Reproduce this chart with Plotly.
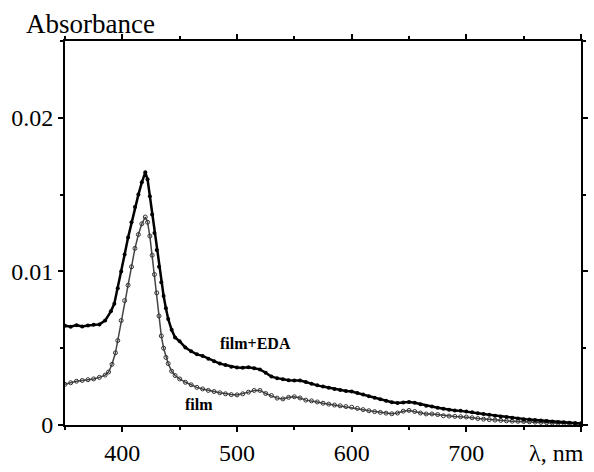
import plotly.graph_objects as go

# wavelength grid (nm)
wl_eda = [350, 355, 360, 365, 370, 375, 380, 385, 390, 393, 396, 399, 402, 405, 408, 411, 414, 417, 420,
          422, 424, 426, 428, 430, 432, 434, 436, 438, 440, 443, 446, 450, 455, 460, 465, 470, 475, 480,
          485, 490, 495, 500, 505, 510, 515, 520, 525, 530, 535, 540, 545, 550, 555, 560, 565, 570, 575,
          580, 585, 590, 595, 600, 605, 610, 615, 620, 625, 630, 635, 640, 645, 650, 655, 660, 665, 670,
          675, 680, 685, 690, 695, 700, 705, 710, 715, 720, 725, 730, 735, 740, 745, 750, 755, 760, 765,
          770, 775, 780, 785, 790, 795, 800]
abs_eda = [0.00646, 0.00640, 0.00650, 0.00642, 0.00648, 0.00652, 0.00655, 0.00680, 0.00740, 0.00790,
           0.00890, 0.01000, 0.01110, 0.01220, 0.01320, 0.01420, 0.01500, 0.01580, 0.01645,
           0.01600, 0.01490, 0.01370, 0.01250, 0.01140, 0.01030, 0.00930, 0.00840, 0.00760, 0.00690,
           0.00620, 0.00570, 0.00545, 0.00505, 0.00480, 0.00460, 0.00450, 0.00432, 0.00415,
           0.00400, 0.00390, 0.00380, 0.00375, 0.00373, 0.00376, 0.00370, 0.00362, 0.00340, 0.00315,
           0.00305, 0.00298, 0.00292, 0.00290, 0.00289, 0.00280, 0.00268, 0.00258, 0.00250,
           0.00242, 0.00235, 0.00228, 0.00222, 0.00218, 0.00208, 0.00198, 0.00187, 0.00178, 0.00168,
           0.00158, 0.00148, 0.00143, 0.00146, 0.00149, 0.00145, 0.00135, 0.00126, 0.00120,
           0.00112, 0.00105, 0.00099, 0.00095, 0.00092, 0.00088, 0.00083, 0.00077, 0.00072, 0.00066,
           0.00061, 0.00056, 0.00052, 0.00047, 0.00042, 0.00038, 0.00035, 0.00033, 0.00030,
           0.00026, 0.00023, 0.00020, 0.00018, 0.00015, 0.00012, 0.00010]

wl_film = [350, 355, 360, 365, 370, 375, 380, 385, 388, 391, 394, 396, 399, 402, 405, 408, 411, 414, 417,
           420, 422, 424, 426, 428, 430, 432, 434, 436, 438, 440, 443, 446, 450, 455, 460, 465, 470, 475,
           480, 485, 490, 495, 500, 505, 510, 515, 520, 525, 530, 535, 540, 545, 550, 555, 560, 565, 570,
           575, 580, 585, 590, 595, 600, 605, 610, 615, 620, 625, 630, 635, 640, 645, 650, 655, 660, 665,
           670, 675, 680, 685, 690, 695, 700, 705, 710, 715, 720, 725, 730, 735, 740, 745, 750, 755, 760,
           765, 770, 775, 780, 785, 790, 795, 800]
abs_film = [0.00265, 0.00275, 0.00285, 0.00290, 0.00295, 0.00300, 0.00310, 0.00325, 0.00345, 0.00395,
            0.00470, 0.00550, 0.00680, 0.00810, 0.00910, 0.01030, 0.01150, 0.01240, 0.01310,
            0.01354, 0.01320, 0.01230, 0.01105, 0.00980, 0.00860, 0.00710, 0.00580, 0.00500, 0.00440,
            0.00400, 0.00350, 0.00322, 0.00300, 0.00278, 0.00262, 0.00245, 0.00235, 0.00225,
            0.00218, 0.00210, 0.00203, 0.00198, 0.00196, 0.00203, 0.00214, 0.00225, 0.00225, 0.00205,
            0.00192, 0.00175, 0.00170, 0.00180, 0.00184, 0.00176, 0.00162, 0.00157, 0.00150,
            0.00142, 0.00136, 0.00130, 0.00125, 0.00120, 0.00116, 0.00108, 0.00100, 0.00093, 0.00087,
            0.00082, 0.00077, 0.00073, 0.00078, 0.00090, 0.00095, 0.00088, 0.00078, 0.00072,
            0.00072, 0.00068, 0.00060, 0.00058, 0.00056, 0.00054, 0.00052, 0.00047, 0.00042, 0.00038,
            0.00035, 0.00032, 0.00030, 0.00027, 0.00025, 0.00024, 0.00023, 0.00021, 0.00019,
            0.00017, 0.00015, 0.00013, 0.00012, 0.00011, 0.00010, 0.00009, 0.00008]

x_tickvals = [400, 500, 600, 700, 800]
x_ticktext = ["400", "500", "600", "700", ""]
y_tickvals = [0, 0.01, 0.02]
y_ticktext = ["0", "0.01", "0.02"]

FONT = "Liberation Serif"

fig = go.Figure()
fig.add_trace(go.Scatter(
    x=wl_film, y=abs_film, mode="lines+markers", name="film",
    line=dict(color="#444444", width=1.5),
    marker=dict(symbol="circle-open", size=4, color="#333333", line=dict(width=1)),
))
fig.add_trace(go.Scatter(
    x=wl_eda, y=abs_eda, mode="lines+markers", name="film+EDA",
    line=dict(color="black", width=2.5),
    marker=dict(symbol="circle", size=4, color="black"),
))

fig.update_layout(
    width=594, height=472,
    margin=dict(l=65, r=6, t=41, b=44),
    paper_bgcolor="white", plot_bgcolor="white",
    showlegend=False,
    font=dict(family=FONT, size=24, color="black"),
)
fig.update_xaxes(
    range=[350, 800], showgrid=False, zeroline=False,
    showline=True, linecolor="black", linewidth=2, mirror="ticks",
    ticks="outside", ticklen=5, tickwidth=1.5, tickcolor="black",
    tickvals=x_tickvals, ticktext=x_ticktext,
    minor=dict(dtick=50, tick0=350, ticks="outside", ticklen=3, tickcolor="black", tickwidth=1.5),
    tickfont=dict(family=FONT, size=24),
)
fig.update_yaxes(
    range=[0, 0.025], showgrid=False, zeroline=False,
    showline=True, linecolor="black", linewidth=2, mirror="ticks",
    ticks="outside", ticklen=5, tickwidth=1.5, tickcolor="black",
    tickvals=y_tickvals, ticktext=y_ticktext,
    minor=dict(dtick=0.005, tick0=0, ticks="outside", ticklen=3, tickcolor="black", tickwidth=1.5),
    tickfont=dict(family=FONT, size=24),
)

fig.add_annotation(x=0, y=1, xref="paper", yref="paper", xanchor="center", yanchor="bottom",
                   xshift=25, yshift=0, text="Absorbance", showarrow=False,
                   font=dict(family=FONT, size=27))
fig.add_annotation(x=1, y=0, xref="paper", yref="paper", xanchor="right", yanchor="top",
                   xshift=5, yshift=-13, text="λ, nm", showarrow=False,
                   font=dict(family=FONT, size=24))
fig.add_annotation(x=516, y=0.0053, text="<b>film+EDA</b>", showarrow=False,
                   font=dict(family=FONT, size=16))
fig.add_annotation(x=467, y=0.00135, text="<b>film</b>", showarrow=False,
                   font=dict(family=FONT, size=16))

fig.write_html("out.html", config={"displayModeBar": False},
               post_script="document.body.style.margin='0';document.body.style.overflow='hidden';")
